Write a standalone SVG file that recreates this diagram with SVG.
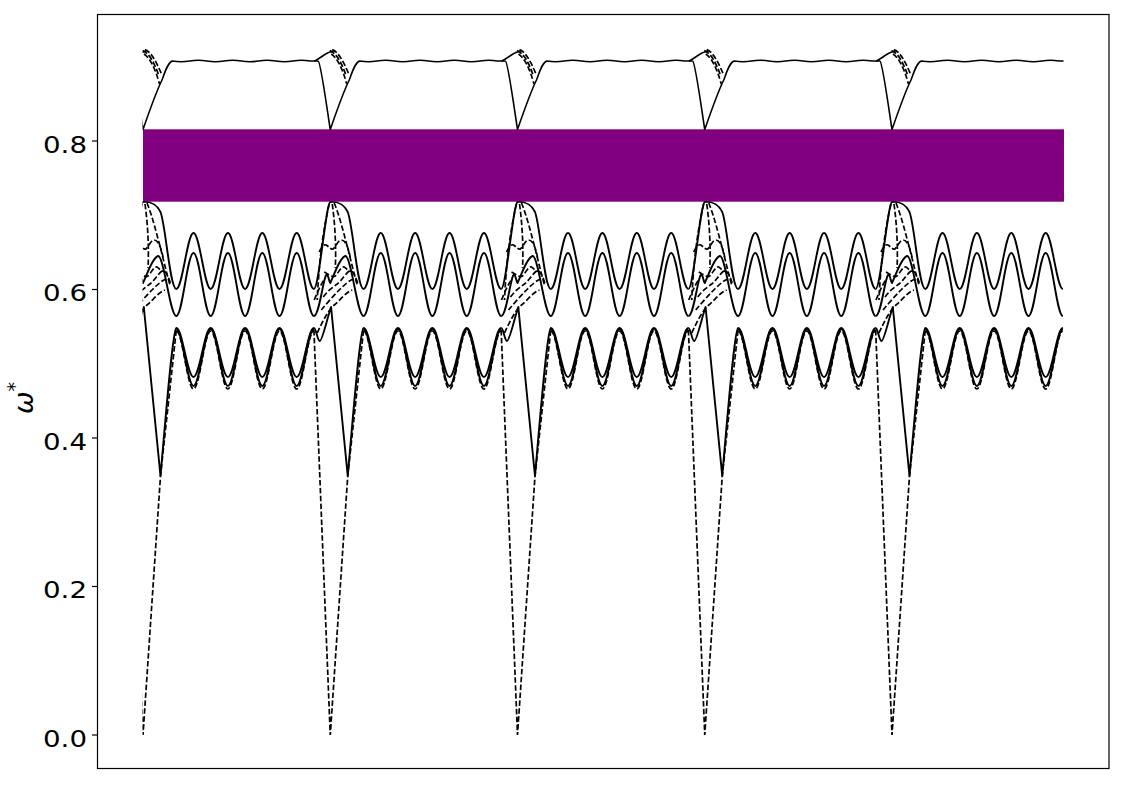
<svg xmlns="http://www.w3.org/2000/svg" width="1125" height="785" viewBox="0 0 1125 785">
<style>
.s{fill:none;stroke:#000;stroke-width:1.9;stroke-linejoin:round}
.t{fill:none;stroke:#000;stroke-width:1.6;stroke-linejoin:round}
.d{fill:none;stroke:#000;stroke-width:1.7;stroke-dasharray:5.5,2.4}
.tk{font-family:"DejaVu Sans",sans-serif;font-size:23.5px;fill:#000}
</style>
<defs>
<clipPath id="clip"><rect x="142.5" y="10" width="921" height="760"/></clipPath>
<g id="cell">
<path class="t" d="M-12,61 C-9.5,63 -4.5,100 0,129.5 C4,118 13,92 19,80 C22,72 25,62 29.5,61 Q38.1,62.5 46.7,61 T63.9,61 T81.1,61 T98.3,61 T115.5,61 T132.7,61 T149.9,61 T167.1,61 L175.25,61"/>
<path class="t" d="M-16,61 C-12,60 -5,53 0,52 C1.5,51.8 3,51 4.5,50.5"/>
<path class="d" d="M-0.5,50.5 C6,53 11,62 16,76"/>
<path class="d" d="M2,49.5 C8,52 13,61 18.5,74"/>
<path class="d" d="M1,54 C7,58 12,68 16.5,84"/>
<path class="s" d="M-16.35,289 C-11.25,289 -4.25,203 0,202 C7,201.5 13,203 17.5,212 C22.5,224 27,289 33.3,289 C39.55,289 44.25,233 50.5,233 S61.45,289 67.7,289 S78.65,233 84.9,233 S95.85,289 102.1,289 S113.05,233 119.3,233 S130.25,289 136.5,289 S147.45,233 153.7,233 S164.65,289 170.9,289"/>
<path class="s" d="M-16.35,316 C-11,316 -7,278 -4,275 C-2,273 -1,283 0,283 C4,275 9,258 15,256 C21,255 27,316 33.3,316 C39.55,316 44.25,253 50.5,253 S61.45,316 67.7,316 S78.65,253 84.9,253 S95.85,316 102.1,316 S113.05,253 119.3,253 S130.25,316 136.5,316 S147.45,253 153.7,253 S164.65,316 170.9,316"/>
<path class="s" d="M-16.35,328 C-14,328 -13,341 -10.5,341 C-8,341 -3,318 0.8,307 L17.5,476 C24,400 30,330 33.3,328 C39.55,328 44.25,377 50.5,377 S61.45,328 67.7,328 S78.65,377 84.9,377 S95.85,328 102.1,328 S113.05,377 119.3,377 S130.25,328 136.5,328 S147.45,377 153.7,377 S164.65,328 170.9,328"/>
<path class="s" d="M33.3,329 C39.55,329 44.25,386 50.5,386 S61.45,329 67.7,329 S78.65,386 84.9,386 S95.85,329 102.1,329 S113.05,386 119.3,386 S130.25,329 136.5,329 S147.45,386 153.7,386 S164.65,329 170.9,329"/>
<path class="d" d="M33.3,331 C39.55,331 44.25,389 50.5,389 S61.45,331 67.7,331 S78.65,389 84.9,389 S95.85,331 102.1,331 S113.05,389 119.3,389 S130.25,331 136.5,331 S147.45,389 153.7,389 S164.65,331 170.9,331"/>
<path class="d" d="M-16.35,330 L0,735 L17.5,476 L33.3,330"/>
<path class="d" d="M-1,204 C-6,225 -11,255 -13,300"/>
<path class="d" d="M4,203 C9,215 14,235 18,250 C21,262 24,275 27,285"/>
<path class="d" d="M2,204 C5,225 6,250 5,268"/>
<path class="d" d="M-11,252 C-8,246 -6,244 -4,245 C-1,247 1,250 3,249 C6,246 8,240 11,240 C14,240 17,243 20,257"/>
<path class="d" d="M-6,272 C-2,274 2,278 5,276 C8,273 11,266 14,267 C16,268 18,272 21,271"/>
<path class="d" d="M-7,297 C-2,290 3,287 7,284 C11,281 15,274 19,271 C22,269 25,275 28,285"/>
<path class="d" d="M-9,310 C-4,304 3,296 9,290 C14,285 19,280 24,279"/>
<path class="d" d="M-13,333 C-8,322 -2,310 4,305 C10,300 16,292 22,290"/>
<path class="d" d="M-16,300 C-12,290 -8,282 -5,278"/>
</g>
</defs>
<rect x="0" y="0" width="1125" height="785" fill="#fff"/>
<rect x="143" y="129.3" width="921" height="72.4" fill="#800080"/>
<g id="curves" clip-path="url(#clip)">
<use href="#cell" transform="translate(143,0)"/>
<use href="#cell" transform="translate(330.25,0)"/>
<use href="#cell" transform="translate(517.5,0)"/>
<use href="#cell" transform="translate(704.75,0)"/>
<use href="#cell" transform="translate(892,0)"/>
</g>
<rect x="97.5" y="14.5" width="1011.5" height="754" fill="none" stroke="#000" stroke-width="1.2"/>
<g id="yticks" stroke="#000" stroke-width="1.2">
<line x1="92" y1="735" x2="97.5" y2="735"/>
<line x1="92" y1="586.5" x2="97.5" y2="586.5"/>
<line x1="92" y1="438" x2="97.5" y2="438"/>
<line x1="92" y1="289.5" x2="97.5" y2="289.5"/>
<line x1="92" y1="141" x2="97.5" y2="141"/>
</g>
<g id="ylabels" class="tk" text-anchor="end">
<text x="87" y="746.7" textLength="44" lengthAdjust="spacingAndGlyphs">0.0</text>
<text x="87" y="598.2" textLength="44" lengthAdjust="spacingAndGlyphs">0.2</text>
<text x="87" y="449.7" textLength="44" lengthAdjust="spacingAndGlyphs">0.4</text>
<text x="87" y="301.2" textLength="44" lengthAdjust="spacingAndGlyphs">0.6</text>
<text x="87" y="152.7" textLength="44" lengthAdjust="spacingAndGlyphs">0.8</text>
</g>
<text transform="translate(33,414) rotate(-90)" font-family="DejaVu Sans, sans-serif" font-style="italic" font-size="27">ω<tspan dy="-12" font-size="19" font-style="normal">*</tspan></text>
</svg>
